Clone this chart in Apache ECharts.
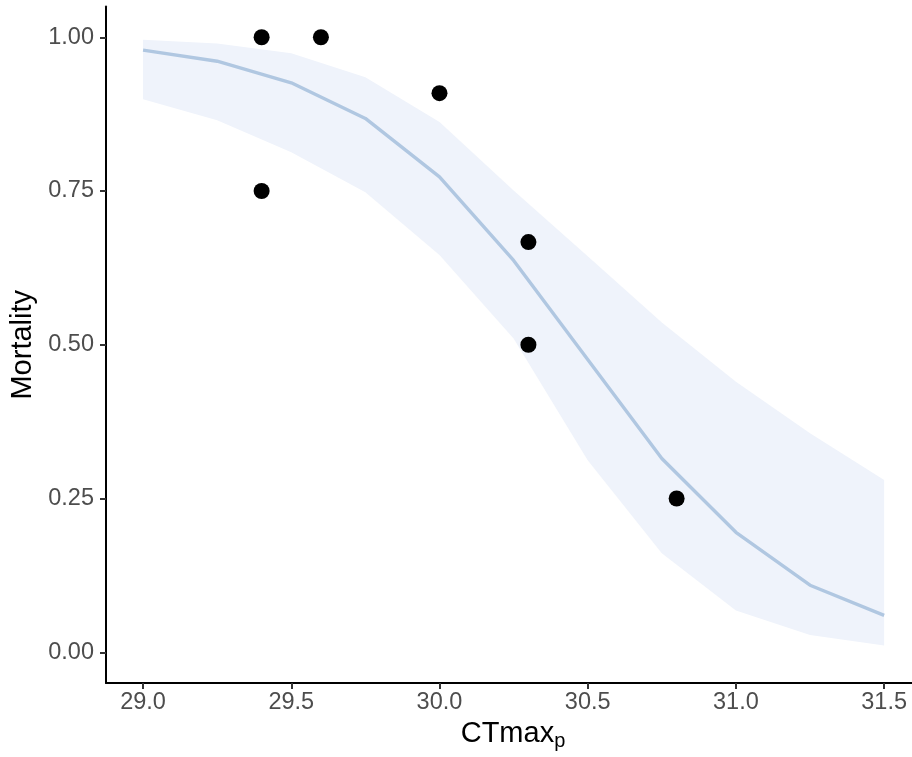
<!DOCTYPE html>
<html>
<head>
<meta charset="utf-8">
<script src="https://cdn.jsdelivr.net/npm/echarts@6/dist/echarts.min.js"></script>
<style>html,body{margin:0;padding:0;background:#fff}#chart{width:912px;height:757px}</style>
</head>
<body>
<div id="chart"></div>
<script>
// Fitted curve grid
var fitX = [29.0, 29.25, 29.5, 29.75, 30.0, 30.25, 30.5, 30.75, 31.0, 31.25, 31.5];
var fitY = [0.979, 0.961, 0.926, 0.868, 0.773, 0.637, 0.476, 0.315, 0.195, 0.109, 0.060];
var fitUpper = [0.996, 0.990, 0.974, 0.935, 0.862, 0.751, 0.644, 0.536, 0.440, 0.356, 0.280];
var fitLower = [0.899, 0.865, 0.813, 0.748, 0.646, 0.510, 0.312, 0.161, 0.068, 0.028, 0.011];
// Observed points
var obsX = [29.4, 29.6, 29.4, 30.0, 30.3, 30.3, 30.8];
var obsY = [1.00, 1.00, 0.75, 0.909, 0.667, 0.50, 0.25];
// Ticks
var xTicks = [29.0, 29.5, 30.0, 30.5, 31.0, 31.5];
var yTicks = [0.00, 0.25, 0.50, 0.75, 1.00];

var font = "'Liberation Sans', Arial, sans-serif";
var bandData = fitX.map(function (x, i) { return [x, fitLower[i], fitUpper[i]]; });
var lineData = fitX.map(function (x, i) { return [x, fitY[i]]; });
var ptData = obsX.map(function (x, i) { return [x, obsY[i]]; });

var chart = echarts.init(document.getElementById('chart'), null, {renderer: 'canvas'});
chart.setOption({
  animation: false,
  backgroundColor: '#ffffff',
  grid: {left: 106, top: 6.5, width: 806, height: 676.5, containLabel: false},
  xAxis: {
    type: 'value', min: 28.875, max: 31.594,
    name: '{a|CTmax}{b|p}', nameLocation: 'middle', nameGap: 34,
    nameTextStyle: {
      fontFamily: font, color: '#000', padding: [0, 0, 0, 8],
      rich: {
        a: {fontSize: 29, fontFamily: font, color: '#000', verticalAlign: 'bottom', lineHeight: 34, padding: [0, 0, 3, 0]},
        b: {fontSize: 20, fontFamily: font, color: '#000', verticalAlign: 'bottom', lineHeight: 34}
      }
    },
    axisLine: {show: true, onZero: false, lineStyle: {color: '#000', width: 2}},
    axisTick: {show: true, length: 6, lineStyle: {color: '#333', width: 2}, customValues: xTicks},
    axisLabel: {customValues: xTicks, fontSize: 23.5, fontFamily: font, color: '#4D4D4D', margin: 8,
      formatter: function (v) { return v.toFixed(1); }},
    splitLine: {show: false}
  },
  yAxis: {
    type: 'value', min: -0.05, max: 1.05,
    name: 'Mortality', nameLocation: 'middle', nameGap: 63, nameRotate: 90,
    nameTextStyle: {fontSize: 29, fontFamily: font, color: '#000'},
    axisLine: {show: true, onZero: false, lineStyle: {color: '#000', width: 2}},
    axisTick: {show: true, length: 6, lineStyle: {color: '#333', width: 2}, customValues: yTicks},
    axisLabel: {customValues: yTicks, fontSize: 23.5, fontFamily: font, color: '#4D4D4D', margin: 12,
      formatter: function (v) { return v.toFixed(2); }},
    splitLine: {show: false}
  },
  series: [
    {
      type: 'custom', data: bandData, z: 1, silent: true,
      encode: {x: 0, y: [1, 2]},
      renderItem: function (params, api) {
        if (params.dataIndex !== 0) return null;
        var up = [], lo = [];
        for (var i = 0; i < bandData.length; i++) {
          up.push(api.coord([bandData[i][0], bandData[i][2]]));
          lo.push(api.coord([bandData[i][0], bandData[i][1]]));
        }
        var pts = up.concat(lo.reverse());
        return {type: 'polygon', shape: {points: pts}, style: {fill: '#EFF3FB', stroke: null}};
      }
    },
    {type: 'line', data: lineData, showSymbol: false, symbol: 'none',
      lineStyle: {width: 3.4, color: '#B0C7E1'}, z: 2},
    {type: 'scatter', data: ptData, symbol: 'circle', symbolSize: 16,
      itemStyle: {color: '#000', opacity: 1}, z: 3}
  ]
});
</script>
</body>
</html>
